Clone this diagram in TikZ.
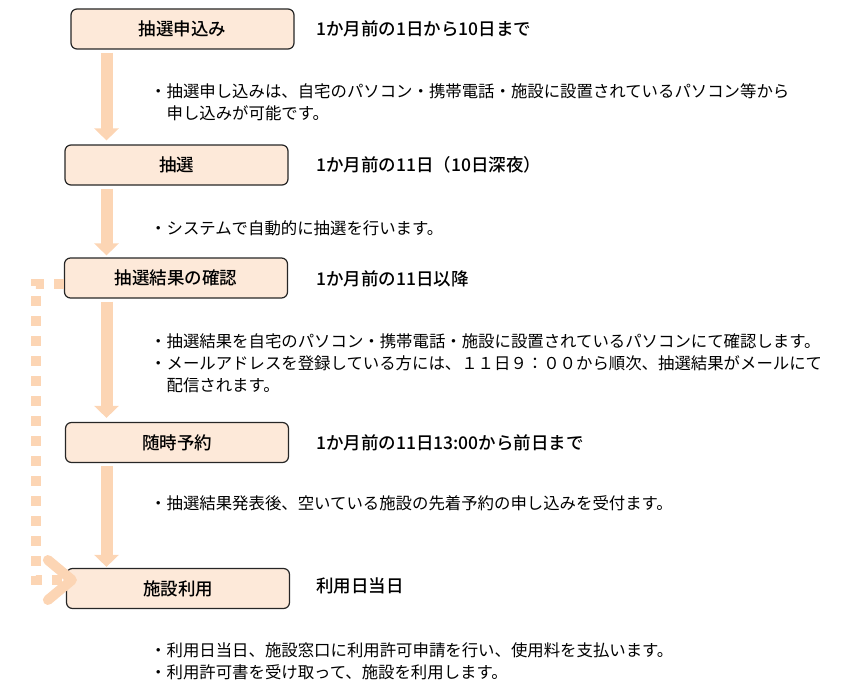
\documentclass[tikz,border=0pt]{standalone}
\usepackage{fontspec}
\setmainfont{Noto Sans CJK JP}
\newfontfamily\headfont{Noto Sans CJK JP Medium}
\usetikzlibrary{arrows.meta}
\definecolor{boxfill}{HTML}{FDE9D9}
\definecolor{flowpeach}{HTML}{FCD5B4}
\begin{document}
\begin{tikzpicture}[x=1pt,y=-1pt,
    stagebox/.style={draw=black!85,line width=1.2pt,fill=boxfill,rounded corners=6pt,
      minimum width=223pt,minimum height=40pt,font=\fontsize{17.5}{20}\headfont},
    datetext/.style={anchor=west,inner sep=0pt,font=\fontsize{17.5}{20}\headfont},
    notetext/.style={anchor=west,inner sep=0pt,align=left,font=\fontsize{16.4}{22}\selectfont},
    flow/.style={draw=flowpeach,line width=12pt,-{Triangle[length=12pt,width=24pt]},
      shorten <=3pt},
    recheck/.style={draw=flowpeach,line width=10pt,dash pattern=on 10pt off 10pt,
      -{Straight Barb[length=24pt,width=40pt,round]}}]
  \useasboundingbox (0,0) rectangle (848,698);
  \coordinate (axis) at (106.5,0);
  \draw
    (182.5,29) node[stagebox] (apply){抽選申込み}
    (176.5,165) node[stagebox] (lottery){抽選}
    (176,278) node[stagebox] (confirm){抽選結果の確認}
    (177,442.5) node[stagebox] (reserve){随時予約}
    (178,588.5) node[stagebox] (use){施設利用};
  \draw
    (316,29) node[datetext] (applydate){1か月前の1日から10日まで}
    (316,165) node[datetext] (lotterydate){1か月前の11日（10日深夜）}
    (316,279) node[datetext] (confirmdate){1か月前の11日以降}
    (316,442.5) node[datetext] (reservedate){1か月前の11日13:00から前日まで}
    (316,586) node[datetext] (usedate){利用日当日};
  \draw
    (150,102) node[notetext] (applynote){・抽選申し込みは、自宅のパソコン・携帯電話・施設に設置されているパソコン等から\\\hspace*{1em}申し込みが可能です。}
    (150,228) node[notetext] (lotterynote){・システムで自動的に抽選を行います。}
    (150,363.5) node[notetext] (confirmnote){・抽選結果を自宅のパソコン・携帯電話・施設に設置されているパソコンにて確認します。\\・メールアドレスを登録している方には、１１日９：００から順次、抽選結果がメールにて\\\hspace*{1em}配信されます。}
    (150,503) node[notetext] (reservenote){・抽選結果発表後、空いている施設の先着予約の申し込みを受付ます。}
    (150,661) node[notetext] (usenote){・利用日当日、施設窓口に利用許可申請を行い、使用料を支払います。\\・利用許可書を受け取って、施設を利用します。};
  \begin{scope}[flow]
    \draw (apply.south -| axis) to ([yshift=4pt]lottery.north -| axis);
    \draw (lottery.south -| axis) to ([yshift=2pt]confirm.north -| axis);
    \draw (confirm.south -| axis) to ([yshift=4pt]reserve.north -| axis);
    \draw (reserve.south -| axis) to ([yshift=1pt]use.north -| axis);
  \end{scope}
  % lottery result -> use, dotted
  \draw[recheck] ([yshift=-6pt]confirm.west) -- ++(-28,0) |- ([yshift=8.5pt,xshift=11pt]use.west);
\end{tikzpicture}
\end{document}
